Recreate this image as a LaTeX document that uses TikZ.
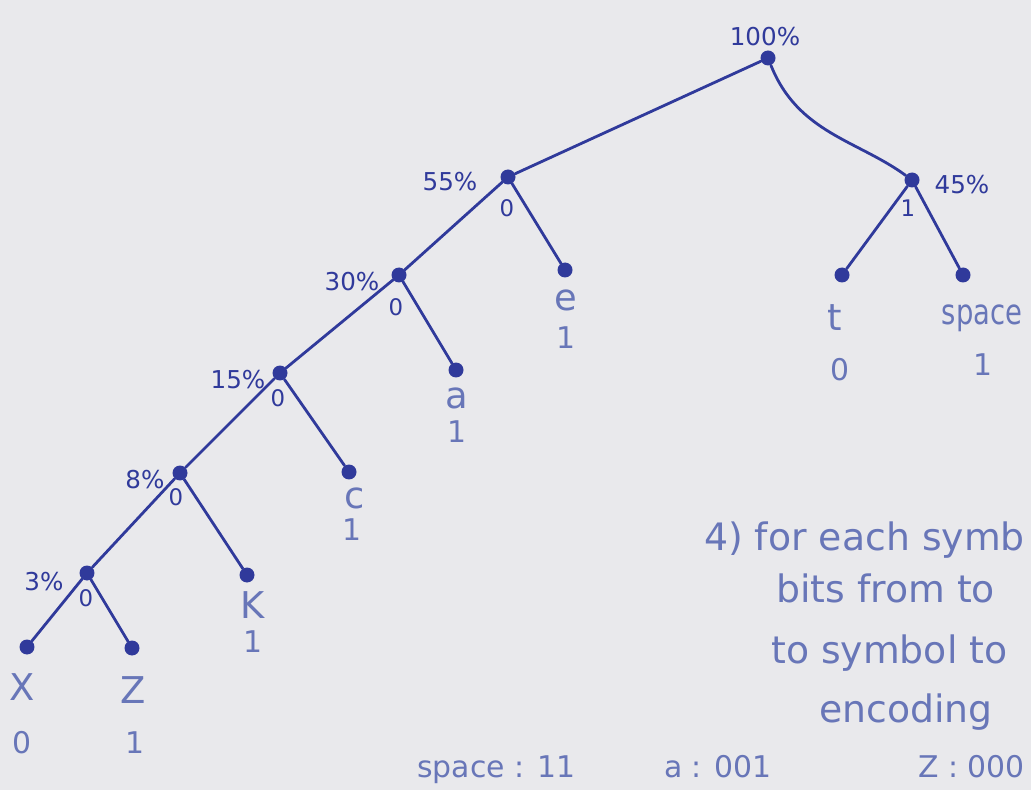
\documentclass[tikz,border=0pt]{standalone}
\usepackage{fontspec}
\setmainfont{DejaVu Sans}
\usepackage{xcolor}
\usetikzlibrary{positioning}

\definecolor{paper}{RGB}{233,233,236}
\definecolor{ink}{RGB}{48,58,155}
\definecolor{inklight}{RGB}{104,118,184}

\begin{document}
\begin{tikzpicture}[
		x=0.02cm, y=-0.02cm,
		dot/.style={circle, fill=ink, inner sep=0pt, minimum size=0.3cm},
		edge/.style={draw=ink, line width=1.6pt, line cap=round},
		pct/.style={text=ink, font=\fontsize{14}{16}\selectfont},
		bit/.style={text=ink, font=\fontsize{13}{15}\selectfont},
		sym/.style={text=inklight, font=\fontsize{21}{24}\selectfont},
		code/.style={text=inklight, font=\fontsize{17}{20}\selectfont},
		note/.style={text=inklight, font=\fontsize{21.5}{26}\selectfont, anchor=base west},
		table/.style={text=inklight, font=\fontsize{17}{20}\selectfont, anchor=base west}
	]
	\useasboundingbox (0,0) rectangle (1031,790);
	\fill[paper] (0,0) rectangle (1031,790);
	\clip (0,0) rectangle (1031,790);

	% tree nodes
	\node[dot] (root) at (768,58) {};
	\node[dot] (n55) at (508,177) {};
	\node[dot] (n45) at (912,180) {};
	\node[dot] (n30) at (399,275) {};
	\node[dot] (n15) at (280,373) {};
	\node[dot] (n8) at (180,473) {};
	\node[dot] (n3) at (87,573) {};
	\node[dot] (lfe) at (565,270) {};
	\node[dot] (lft) at (842,275) {};
	\node[dot] (lfsp) at (963,275) {};
	\node[dot] (lfa) at (456,370) {};
	\node[dot] (lfc) at (349,472) {};
	\node[dot] (lfk) at (247,575) {};
	\node[dot] (lfx) at (27,647) {};
	\node[dot] (lfz) at (132,648) {};

	% branches
	\draw[edge] (root) -- (n55);
	\draw[edge] (root) .. controls +(30,75) and +(-55,-40) .. (n45);
	\foreach \a/\b in {n55/n30, n55/lfe, n45/lft, n45/lfsp, n30/n15, n30/lfa,
	                   n15/n8, n15/lfc, n8/n3, n8/lfk, n3/lfx, n3/lfz}
		\draw[edge] (\a) -- (\b);

	% weights and bits of inner nodes
	\node[pct] (p100) at (765,37) {100\%};
	\node[pct] (p55) at (450,182) {55\%};
	\node[pct] (p45) at (962,185) {45\%};
	\node[pct] (p30) at (352,282) {30\%};
	\node[pct] (p15) at (238,380) {15\%};
	\node[pct] (p8) at (145,480) {8\%};
	\node[pct] (p3) at (44,582) {3\%};
	\node[bit] (b55) at (507,208) {0};
	\node[bit] (b45) at (908,208) {1};
	\node[bit] (b30) at (396,307) {0};
	\node[bit] (b15) at (278,398) {0};
	\node[bit] (b8) at (176,497) {0};
	\node[bit] (b3) at (86,598) {0};

	% leaf symbols and their bits
	\node[sym] (se) at (566,300) {e};
	\node[code] (ce) at (566,338) {1};
	\node[sym] (st) at (835,318) {t};
	\node[code] (ct) at (840,370) {0};
	\node[sym, font=\fontsize{20}{22}\selectfont] (ssp) at (982,318) {\scalebox{0.78}[1]{space}};
	\node[code] (csp) at (983,365) {1};
	\node[sym] (sa) at (457,398) {a};
	\node[code] (ca) at (457,432) {1};
	\node[sym] (sc) at (355,498) {c};
	\node[code] (cc) at (352,530) {1};
	\node[sym] (sk) at (253,605) {K};
	\node[code] (ck) at (253,642) {1};
	\node[sym] (sx) at (22,687) {X};
	\node[code] (cx) at (22,743) {0};
	\node[sym] (sz) at (133,690) {Z};
	\node[code] (cz) at (135,743) {1};

	% step note
	\node[note] (line1) at (698,550) {4) for each symb};
	\node[note] (line2) at (770,602) {bits from to};
	\node[note] (line3) at (765,663) {to symbol to};
	\node[note] (line4) at (813,722) {encoding};

	% resulting codes
	\node[table] (tsp) at (411,777) {space : 11};
	\node[table] (ta) at (658,777) {a : 001};
	\node[table] (tz) at (912,777) {Z : 000};
\end{tikzpicture}
\end{document}
